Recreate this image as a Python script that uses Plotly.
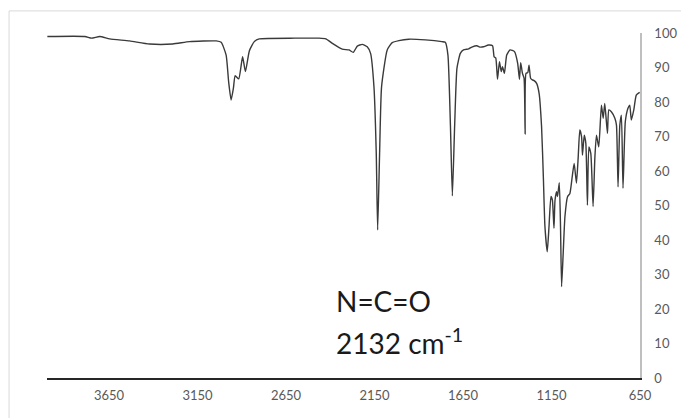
import plotly.graph_objects as go

wavenumber = [3998, 3786, 3748, 3702, 3646, 3534, 3421, 3290, 3195, 3044, 3016, 2988, 2974, 2960, 2947,
              2937, 2917, 2895, 2879, 2857, 2829, 2801, 2600, 2463, 2425, 2388, 2332, 2294, 2270, 2247,
              2219, 2191, 2172, 2153, 2140, 2132, 2121, 2110, 2078, 2050, 2012, 1956, 1862, 1769, 1750,
              1735, 1721, 1710, 1697, 1684, 1665, 1647, 1618, 1600, 1572, 1552, 1534, 1506, 1483, 1474,
              1465, 1455, 1444, 1434, 1427, 1416, 1403, 1384, 1359, 1341, 1331, 1324, 1314, 1305, 1299,
              1294, 1284, 1277, 1268, 1258, 1248, 1234, 1220, 1206, 1196, 1187, 1174, 1164, 1153, 1145,
              1136, 1130, 1121, 1116, 1106, 1099, 1093, 1084, 1074, 1059, 1046, 1033, 1022, 1009, 999,
              990, 980, 975, 965, 956, 947, 939, 928, 915, 905, 896, 883, 868, 858, 849,
              834, 826, 812, 792, 783, 774, 764, 755, 746, 733, 718, 708, 699, 685, 671, 652]

transmittance = [99.0, 99.0, 98.5, 99.0, 98.3, 97.7, 96.8, 96.8, 97.5, 97.7, 97.3, 93.6, 85.9, 80.6, 84.0,
                 87.6, 86.7, 93.1, 88.8, 94.8, 97.5, 98.3, 98.5, 98.5, 98.3, 97.0, 95.3, 95.1, 94.4, 96.2,
                 96.7, 96.0, 94.1, 84.4, 65.2, 42.9, 65.2, 84.4, 95.1, 97.2, 97.8, 98.2, 98.0, 97.5, 97.3,
                 93.6, 73.3, 52.8, 73.3, 89.8, 94.1, 95.1, 95.4, 95.9, 96.3, 95.9, 96.0, 96.5, 96.3, 93.1,
                 92.8, 86.6, 91.7, 88.8, 90.2, 88.3, 93.6, 95.1, 94.6, 91.2, 86.6, 91.4, 88.3, 86.9, 70.7,
                 88.3, 88.5, 90.7, 86.9, 86.4, 86.2, 85.4, 82.5, 72.8, 58.3, 43.9, 36.6, 43.9, 52.6, 51.6,
                 43.4, 51.6, 54.0, 52.6, 56.6, 43.9, 26.5, 36.1, 46.8, 52.6, 53.5, 58.3, 62.2, 56.5, 64.1,
                 71.9, 69.9, 64.6, 70.4, 68.0, 50.1, 67.0, 65.1, 49.7, 63.8, 70.4, 67.0, 79.1, 75.3, 79.6,
                 70.9, 77.7, 77.2, 75.3, 73.3, 55.4, 73.3, 76.2, 55.0, 74.3, 78.2, 79.1, 74.8, 77.7, 82.0, 82.8]

x_ticks = [3650, 3150, 2650, 2150, 1650, 1150, 650]
y_ticks = [0, 10, 20, 30, 40, 50, 60, 70, 80, 90, 100]

FONT = "Lato, 'Open Sans', sans-serif"

fig = go.Figure()
fig.add_trace(go.Scatter(
    x=wavenumber, y=transmittance, mode="lines",
    line=dict(color="#3a3a3a", width=1.4, shape="spline", smoothing=0.5),
    hoverinfo="x+y", showlegend=False,
))

fig.update_layout(
    width=681, height=410,
    margin=dict(l=39, r=47, t=25, b=40),
    paper_bgcolor="white", plot_bgcolor="white",
    font=dict(family=FONT, size=13, color="#595959"),
    xaxis=dict(range=[4000, 650], tickvals=x_ticks, ticktext=[str(v) for v in x_ticks],
               showgrid=False, zeroline=False, showline=True, linecolor="#262626", linewidth=2,
               ticks="", ticklabelstandoff=4, tickfont=dict(size=13, color="#595959")),
    yaxis=dict(range=[0, 100], side="right", tickvals=y_ticks, showgrid=False, zeroline=False,
               showline=True, linecolor="#bfbfbf", linewidth=1.5, ticks="", ticklabelstandoff=10,
               tickfont=dict(size=13, color="#595959")),
    annotations=[
        dict(x=2380, y=22.4, xref="x", yref="y", text="N=C=O", showarrow=False,
             xanchor="left", yanchor="middle", font=dict(family=FONT, size=28, color="#1a1a1a")),
        dict(x=2380, y=10.6, xref="x", yref="y", text="2132 cm<sup>-1</sup>", showarrow=False,
             xanchor="left", yanchor="middle", font=dict(family=FONT, size=28, color="#1a1a1a")),
    ],
    shapes=[dict(type="rect", xref="paper", yref="paper", x0=-0.064, x1=1.2, y0=-0.3, y1=1.064,
                 line=dict(color="#d9d9d9", width=1), layer="below")],
)

fig.write_html("out.html")
